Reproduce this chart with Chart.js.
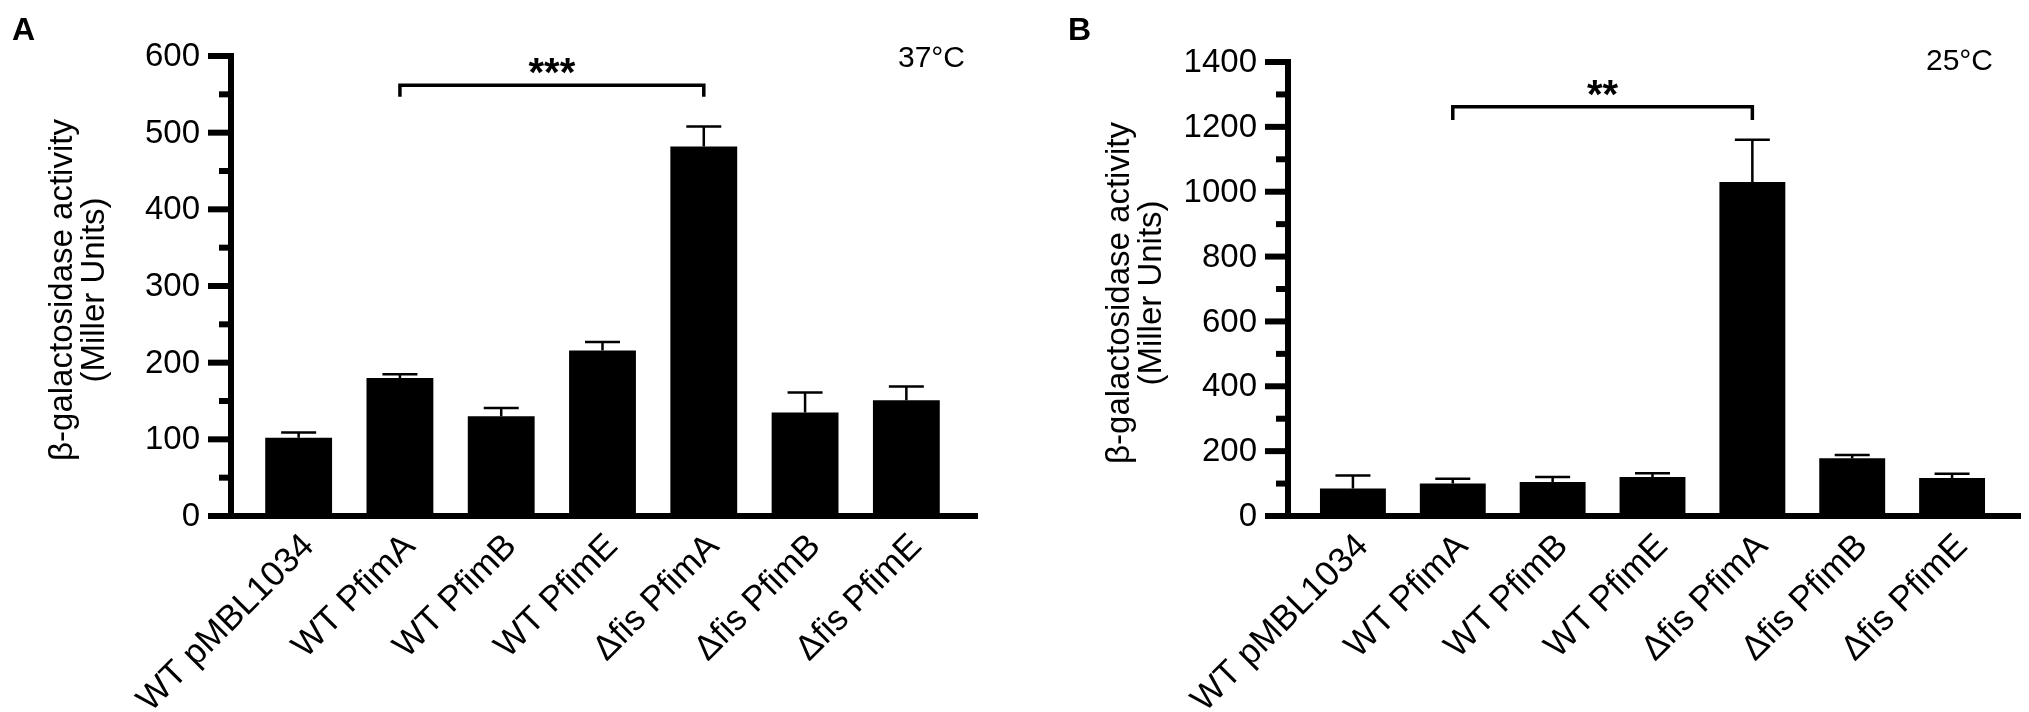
<!DOCTYPE html>
<html><head><meta charset="utf-8">
<script src="https://cdn.jsdelivr.net/npm/chart.js@4.4.0/dist/chart.umd.min.js"></script>
<style>
html,body{margin:0;padding:0;background:#fff;}
body{width:2029px;height:712px;position:relative;overflow:hidden;}
canvas{position:absolute;top:0;}
#ca{left:0;}
#cb{left:1015px;}
</style></head><body>
<canvas id="ca" width="1015" height="712"></canvas>
<canvas id="cb" width="1014" height="712"></canvas>
<script>
// ---------- data ----------
const categories = ['WT pMBL1034','WT PfimA','WT PfimB','WT PfimE','\u0394fis PfimA','\u0394fis PfimB','\u0394fis PfimE'];
const yTitle = ['\u03B2-galactosidase activity','(Miller Units)'];

const meansA = [102, 180, 130, 216, 482, 135, 151];
const errorsA = [7, 5, 11, 11, 26, 26, 18];
const ticksA = [0, 100, 200, 300, 400, 500, 600];
const minorTicksA = [50, 150, 250, 350, 450, 550];
const tempA = '37\u00B0C';
const starsA = '***';
const bracketA = [1, 4, 562, 547]; // from category, to category, top value, drop value

const meansB = [85, 100, 105, 120, 1030, 178, 117];
const errorsB = [40, 15, 15, 12, 130, 10, 13];
const ticksB = [0, 200, 400, 600, 800, 1000, 1200, 1400];
const minorTicksB = [100, 300, 500, 700, 900, 1100, 1300];
const tempB = '25\u00B0C';
const starsB = '**';
const bracketB = [1, 4, 1262, 1221];

const FONT = '"Liberation Sans", Arial, Helvetica, sans-serif';

function panelPlugin(p) {
  return {
    id: 'panel' + p.letter,
    afterDatasetsDraw(chart) {
      const ctx = chart.ctx, xs = chart.scales.x, ys = chart.scales.y;
      ctx.save();
      ctx.strokeStyle = '#000';
      ctx.fillStyle = '#000';
      // error bars (upward)
      ctx.lineWidth = 2.5;
      p.means.forEach((m, i) => {
        const cx = xs.getPixelForValue(i);
        const y0 = ys.getPixelForValue(m), y1 = ys.getPixelForValue(m + p.errors[i]);
        ctx.beginPath();
        ctx.moveTo(cx, y0); ctx.lineTo(cx, y1);
        ctx.moveTo(cx - 17.5, y1); ctx.lineTo(cx + 17.5, y1);
        ctx.stroke();
      });
      // axes
      const ax = p.axisX;
      const yb = ys.getPixelForValue(0);
      const yt = ys.getPixelForValue(p.ticks[p.ticks.length - 1]);
      ctx.lineWidth = 6;
      ctx.lineCap = 'butt';
      ctx.beginPath(); ctx.moveTo(ax, yt - 3); ctx.lineTo(ax, yb); ctx.stroke();
      ctx.beginPath(); ctx.moveTo(ax - 23, yb); ctx.lineTo(p.xEnd, yb); ctx.stroke();
      p.ticks.forEach(v => {
        const py = ys.getPixelForValue(v);
        ctx.beginPath(); ctx.moveTo(ax - 23, py); ctx.lineTo(ax, py); ctx.stroke();
      });
      p.minor.forEach(v => {
        const py = ys.getPixelForValue(v);
        ctx.beginPath(); ctx.moveTo(ax - 12, py); ctx.lineTo(ax, py); ctx.stroke();
      });
      // tick labels
      ctx.font = '33px ' + FONT;
      ctx.textAlign = 'right';
      ctx.textBaseline = 'middle';
      p.ticks.forEach(v => ctx.fillText(String(v), ax - 31, ys.getPixelForValue(v) + 1));
      // category labels
      ctx.font = '35px ' + FONT;
      chart.data.labels.forEach((lab, i) => {
        const cx = xs.getPixelForValue(i);
        ctx.save();
        ctx.translate(cx + 10, yb + 25);
        ctx.rotate(-Math.PI / 4);
        ctx.textAlign = 'right';
        ctx.textBaseline = 'middle';
        ctx.fillText(lab, 0, 0);
        ctx.restore();
      });
      // y title
      ctx.font = '33px ' + FONT;
      const cy = (chart.chartArea.top + chart.chartArea.bottom) / 2 + 4;
      p.title.forEach((t, k) => {
        ctx.save();
        ctx.translate(ax - 168 + 32 * k, cy);
        ctx.rotate(-Math.PI / 2);
        ctx.textAlign = 'center';
        ctx.textBaseline = 'middle';
        ctx.fillText(t, 0, 0);
        ctx.restore();
      });
      // significance bracket
      const [c0, c1, vTop, vDrop] = p.bracket;
      const bx0 = xs.getPixelForValue(c0), bx1 = xs.getPixelForValue(c1);
      const by = ys.getPixelForValue(vTop), bd = ys.getPixelForValue(vDrop);
      ctx.lineWidth = 3.5;
      ctx.lineJoin = 'miter';
      ctx.beginPath();
      ctx.moveTo(bx0, bd); ctx.lineTo(bx0, by); ctx.lineTo(bx1, by); ctx.lineTo(bx1, bd);
      ctx.stroke();
      ctx.font = 'bold 40px ' + FONT;
      ctx.textAlign = 'center';
      ctx.textBaseline = 'alphabetic';
      ctx.fillText(p.stars, (bx0 + bx1) / 2, by + 1);
      // temperature
      ctx.font = '30px ' + FONT;
      ctx.textAlign = 'right';
      ctx.fillText(p.temp, p.tempX, p.tempY);
      // panel letter
      ctx.font = 'bold 32px ' + FONT;
      ctx.textAlign = 'left';
      ctx.fillText(p.letter, p.letterX, 40);
      ctx.restore();
    }
  };
}

function makeChart(id, means, maxY, pad, plug) {
  return new Chart(document.getElementById(id), {
    type: 'bar',
    data: {
      labels: categories,
      datasets: [{
        data: means,
        backgroundColor: '#000',
        borderWidth: 0,
        barPercentage: 0.66,
        categoryPercentage: 1.0
      }]
    },
    options: {
      responsive: false,
      animation: false,
      devicePixelRatio: 1,
      layout: { padding: pad },
      plugins: { legend: { display: false }, tooltip: { enabled: false } },
      scales: {
        x: { display: false, offset: true },
        y: { display: false, min: 0, max: maxY }
      }
    },
    plugins: [plug]
  });
}

makeChart('ca', meansA, 600, { left: 248, right: 58, top: 56, bottom: 196 }, panelPlugin({
  letter: 'A', letterX: 12, means: meansA, errors: errorsA, ticks: ticksA, minor: minorTicksA,
  axisX: 231, xEnd: 978, title: yTitle, bracket: bracketA, stars: starsA,
  temp: tempA, tempX: 965, tempY: 67
}));
makeChart('cb', meansB, 1400, { left: 288, right: 27, top: 62, bottom: 196 }, panelPlugin({
  letter: 'B', letterX: 53, means: meansB, errors: errorsB, ticks: ticksB, minor: minorTicksB,
  axisX: 273, xEnd: 1006, title: yTitle, bracket: bracketB, stars: starsB,
  temp: tempB, tempX: 978, tempY: 70
}));
</script>
</body></html>
